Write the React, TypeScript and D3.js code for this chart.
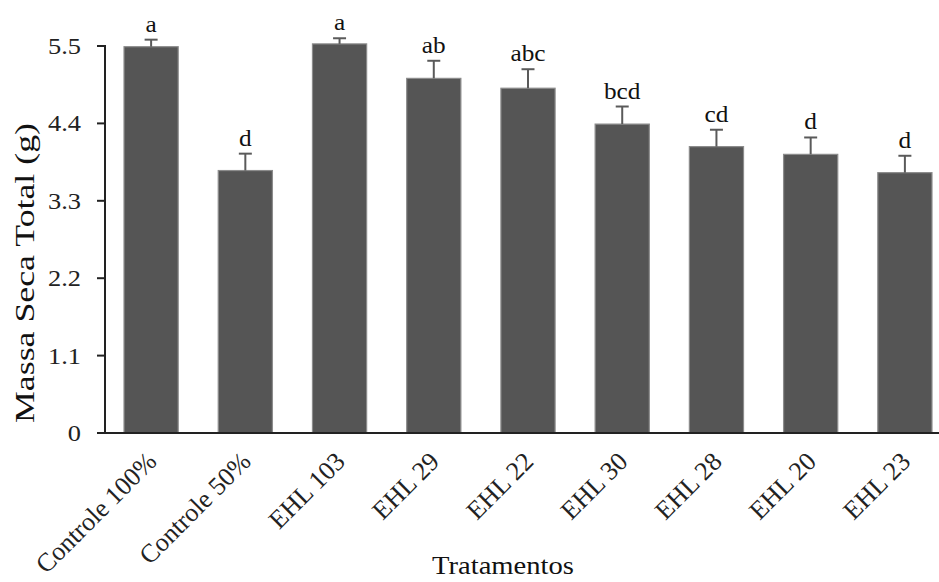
import React from "react";
import * as d3 from "d3";

const categories = ["Controle 100%", "Controle 50%", "EHL 103", "EHL 29", "EHL 22", "EHL 30", "EHL 28", "EHL 20", "EHL 23"];
const means = [5.49, 3.73, 5.53, 5.04, 4.9, 4.39, 4.07, 3.96, 3.7];
const errors = [0.1, 0.24, 0.08, 0.25, 0.27, 0.25, 0.24, 0.24, 0.24];
const letters = ["a", "d", "a", "ab", "abc", "bcd", "cd", "d", "d"];
const yTicks = [0, 1.1, 2.2, 3.3, 4.4, 5.5];

const W = 939;
const H = 582;
const FONT = "'Liberation Serif', 'Times New Roman', serif";

export default function App() {
  const x = d3.scaleBand<string>().domain(categories).range([104, 952]).padding(0);
  const y = d3.scaleLinear().domain([0, 5.5]).range([433, 46]);
  const barW = x.bandwidth() * 0.575;
  const axisX = 105;
  const sx = 1.1;

  return (
    <svg width={W} height={H} style={{ position: "absolute", left: 0, top: 0, background: "#fff" }}>
      {categories.map((c, i) => {
        const cx = (x(c) as number) + x.bandwidth() / 2;
        const top = y(means[i] + errors[i]);
        return (
          <g key={c}>
            <rect
              x={cx - barW / 2}
              y={y(means[i])}
              width={barW}
              height={y(0) - y(means[i])}
              fill="#555555"
              stroke="#8c8c8c"
              strokeWidth={1.2}
            />
            <line x1={cx} x2={cx} y1={y(means[i])} y2={top} stroke="#5a5a5a" strokeWidth={2} />
            <line x1={cx - 6.5} x2={cx + 6.5} y1={top} y2={top} stroke="#5a5a5a" strokeWidth={2} />
            <text
              transform={`translate(${cx},${top - 8}) scale(${sx},1)`}
              textAnchor="middle"
              fontFamily={FONT}
              fontSize={23}
              fill="#111"
            >
              {letters[i]}
            </text>
            <text
              transform={`translate(${cx + 7},${463}) rotate(-45)`}
              textAnchor="end"
              fontFamily={FONT}
              fontSize={26}
              fill="#222"
            >
              {c}
            </text>
          </g>
        );
      })}
      <line x1={axisX} x2={axisX} y1={y(5.5) - 1} y2={y(0)} stroke="#222" strokeWidth={2} />
      {yTicks.map((t) => (
        <g key={t}>
          <line x1={97} x2={axisX} y1={y(t)} y2={y(t)} stroke="#222" strokeWidth={2} />
          <text
            transform={`translate(${81},${y(t) + 8}) scale(${sx},1)`}
            textAnchor="end"
            fontFamily={FONT}
            fontSize={24}
            fill="#222"
          >
            {t === 0 ? "0" : d3.format(".1f")(t)}
          </text>
        </g>
      ))}
      <line x1={97} x2={W} y1={y(0)} y2={y(0)} stroke="#222" strokeWidth={2} />
      <text
        transform={`translate(${503},${574}) scale(${sx},1)`}
        textAnchor="middle"
        fontFamily={FONT}
        fontSize={26}
        fill="#111"
      >
        Tratamentos
      </text>
      <text
        transform={`translate(${34},${273}) rotate(-90)`}
        textAnchor="middle"
        fontFamily={FONT}
        fontSize={28}
        textLength={300}
        lengthAdjust="spacingAndGlyphs"
        fill="#111"
      >
        Massa Seca Total (g)
      </text>
    </svg>
  );
}
